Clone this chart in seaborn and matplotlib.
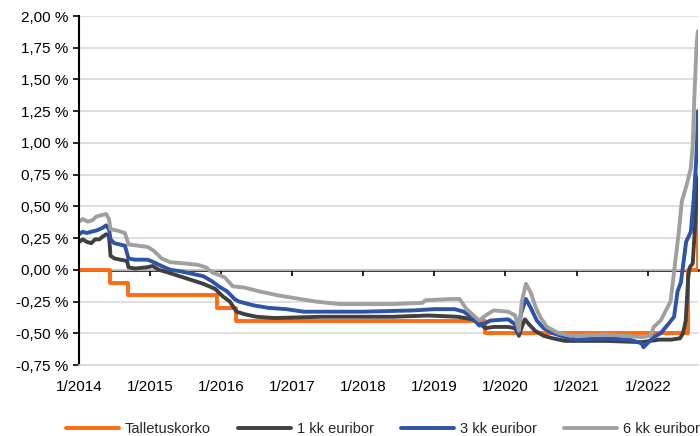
import pandas as pd
import matplotlib
matplotlib.use('Agg')
import matplotlib.pyplot as plt
import matplotlib.ticker as mticker
import seaborn as sns

# Talletuskorko (EKP:n talletuskorko), porrasmuutokset
talletus_dates = ['2014-01-01', '2014-06-11', '2014-09-10', '2015-12-09', '2016-03-16',
                  '2019-09-18', '2022-07-27', '2022-09-14', '2022-09-16']
talletus_vals = [0.00, -0.10, -0.20, -0.30, -0.40, -0.50, 0.00, 0.75, 0.75]

# 1 kk euribor
e1_dates = ['2014-01-02', '2014-01-20', '2014-02-10', '2014-03-05', '2014-03-25', '2014-04-15',
            '2014-05-01', '2014-05-20', '2014-06-04', '2014-06-12', '2014-07-01', '2014-08-01',
            '2014-09-05', '2014-09-12', '2014-10-15', '2014-12-15', '2015-01-15', '2015-02-15',
            '2015-04-01', '2015-06-01', '2015-08-01', '2015-10-01', '2015-12-01', '2016-01-10',
            '2016-02-15', '2016-03-20', '2016-05-01', '2016-07-01', '2016-10-01', '2017-06-01',
            '2018-06-01', '2018-12-01', '2019-05-01', '2019-07-15', '2019-08-20', '2019-09-20',
            '2019-11-01', '2020-01-15', '2020-02-20', '2020-03-10', '2020-03-25', '2020-04-10',
            '2020-05-01', '2020-06-01', '2020-07-15', '2020-09-01', '2020-11-01', '2021-01-01',
            '2021-06-01', '2021-12-01', '2022-01-15', '2022-03-01', '2022-05-01', '2022-06-15',
            '2022-07-01', '2022-07-15', '2022-07-28', '2022-08-05', '2022-08-20', '2022-08-30',
            '2022-09-06', '2022-09-12', '2022-09-15']
e1_vals = [0.22, 0.24, 0.22, 0.21, 0.24, 0.24,
           0.26, 0.28, 0.27, 0.11, 0.09, 0.08,
           0.07, 0.02, 0.01, 0.02, 0.03, 0.00,
           -0.02, -0.05, -0.08, -0.11, -0.15, -0.21,
           -0.25, -0.33, -0.35, -0.37, -0.38, -0.37,
           -0.37, -0.36, -0.37, -0.39, -0.42, -0.46,
           -0.45, -0.45, -0.46, -0.52, -0.45, -0.39,
           -0.43, -0.48, -0.52, -0.54, -0.56, -0.56,
           -0.56, -0.57, -0.56, -0.55, -0.55, -0.54,
           -0.50, -0.40, -0.05, 0.02, 0.05, 0.30,
           0.50, 0.60, 0.72]

# 3 kk euribor
e3_dates = ['2014-01-02', '2014-01-20', '2014-02-10', '2014-03-05', '2014-04-01', '2014-05-01',
            '2014-05-20', '2014-06-04', '2014-06-12', '2014-07-01', '2014-08-25', '2014-09-12',
            '2014-10-15', '2014-12-20', '2015-01-20', '2015-03-01', '2015-04-15', '2015-06-01',
            '2015-08-01', '2015-10-01', '2015-11-15', '2015-12-20', '2016-02-01', '2016-03-10',
            '2016-04-01', '2016-06-15', '2016-09-01', '2016-12-01', '2017-03-01', '2018-01-01',
            '2018-09-15', '2019-01-01', '2019-04-15', '2019-06-01', '2019-07-15', '2019-08-20',
            '2019-09-20', '2019-10-15', '2020-01-15', '2020-02-20', '2020-03-08', '2020-03-20',
            '2020-04-15', '2020-05-10', '2020-06-10', '2020-07-15', '2020-09-01', '2020-11-01',
            '2021-01-01', '2021-06-01', '2021-10-01', '2021-12-01', '2021-12-10', '2022-01-05',
            '2022-02-01', '2022-03-08', '2022-04-15', '2022-05-16', '2022-06-03', '2022-06-20',
            '2022-07-17', '2022-08-10', '2022-08-25', '2022-09-05', '2022-09-12', '2022-09-15']
e3_vals = [0.28, 0.30, 0.29, 0.30, 0.31, 0.33,
           0.35, 0.32, 0.24, 0.21, 0.19, 0.09,
           0.08, 0.08, 0.06, 0.03, 0.00, -0.01,
           -0.03, -0.05, -0.09, -0.13, -0.17, -0.23,
           -0.25, -0.28, -0.30, -0.31, -0.33, -0.33,
           -0.32, -0.31, -0.31, -0.33, -0.38, -0.44,
           -0.42, -0.40, -0.39, -0.43, -0.50, -0.35,
           -0.23, -0.30, -0.40, -0.46, -0.50, -0.53,
           -0.55, -0.54, -0.55, -0.58, -0.61, -0.57,
           -0.53, -0.50, -0.43, -0.37, -0.17, -0.10,
           0.22, 0.30, 0.56, 0.82, 1.04, 1.25]

# 6 kk euribor
e6_dates = ['2014-01-02', '2014-01-20', '2014-02-15', '2014-03-10', '2014-04-01', '2014-04-25',
            '2014-05-20', '2014-06-04', '2014-06-12', '2014-07-15', '2014-08-25', '2014-09-12',
            '2014-11-01', '2014-12-20', '2015-01-20', '2015-03-01', '2015-04-15', '2015-07-01',
            '2015-09-01', '2015-10-15', '2015-11-15', '2015-12-20', '2016-01-20', '2016-03-01',
            '2016-05-01', '2016-07-15', '2016-10-15', '2017-01-01', '2017-05-01', '2017-09-01',
            '2018-01-01', '2018-06-01', '2018-11-01', '2018-11-15', '2019-04-01', '2019-05-10',
            '2019-06-15', '2019-08-20', '2019-09-20', '2019-11-01', '2020-01-15', '2020-02-20',
            '2020-03-10', '2020-03-25', '2020-04-15', '2020-05-10', '2020-06-05', '2020-07-01',
            '2020-08-01', '2020-10-01', '2020-12-01', '2021-06-01', '2021-12-01', '2022-01-15',
            '2022-02-01', '2022-03-08', '2022-04-28', '2022-06-08', '2022-06-25', '2022-07-20',
            '2022-08-10', '2022-08-20', '2022-08-28', '2022-09-08', '2022-09-15']
e6_vals = [0.38, 0.40, 0.38, 0.39, 0.42, 0.43,
           0.44, 0.40, 0.32, 0.31, 0.29, 0.20,
           0.19, 0.18, 0.15, 0.09, 0.06, 0.05,
           0.04, 0.02, -0.02, -0.04, -0.06, -0.13,
           -0.14, -0.17, -0.20, -0.22, -0.25, -0.27,
           -0.27, -0.27, -0.26, -0.24, -0.23, -0.23,
           -0.31, -0.40, -0.36, -0.32, -0.33, -0.36,
           -0.48, -0.25, -0.11, -0.18, -0.30, -0.38,
           -0.45, -0.50, -0.52, -0.51, -0.53, -0.52,
           -0.45, -0.40, -0.25, 0.28, 0.54, 0.67,
           0.80, 0.98, 1.35, 1.75, 1.88]

series = ['Talletuskorko', '1 kk euribor', '3 kk euribor', '6 kk euribor']
colors = ['#FF6A13', '#404040', '#2E54A6', '#A0A0A0']
years = list(range(2014, 2023))

sns.set_style('white')
plt.rcParams['font.family'] = ['Liberation Sans', 'DejaVu Sans']
plt.rcParams['font.size'] = 11

frames = []
for name, d, v in [(series[1], e1_dates, e1_vals), (series[2], e3_dates, e3_vals),
                   (series[3], e6_dates, e6_vals)]:
    frames.append(pd.DataFrame({'pvm': pd.to_datetime(d), 'korko': v, 'sarja': name}))
eur = pd.concat(frames, ignore_index=True)
dep = pd.DataFrame({'pvm': pd.to_datetime(talletus_dates), 'korko': talletus_vals})

fig = plt.figure(figsize=(7, 4.36), dpi=100)
ax = fig.add_axes([79 / 700, 71 / 436, 619 / 700, 349 / 436])

ax.yaxis.grid(True, color='#D9D9D9', linewidth=1.2)
ax.set_axisbelow(True)

sns.lineplot(data=dep, x='pvm', y='korko', color=colors[0], linewidth=2.8,
             drawstyle='steps-post', ax=ax, label=series[0])
sns.lineplot(data=eur, x='pvm', y='korko', hue='sarja', hue_order=series[1:],
             palette=colors[1:], linewidth=2.8, ax=ax)

ax.set_xlim(pd.Timestamp('2014-01-01'), pd.Timestamp('2022-09-16'))
ax.set_ylim(-0.75, 2.0)
ax.set_yticks([i * 0.25 - 0.75 for i in range(12)])
ax.yaxis.set_major_formatter(mticker.FuncFormatter(
    lambda v, p: f'{v:.2f} %'.replace('.', ',').replace('\u2212', '-')))
ax.set_xticks(pd.to_datetime([f'{y}-01-01' for y in years]))
ax.set_xticklabels([f'1/{y}' for y in years])
ax.tick_params(axis='x', length=0, pad=11, labelsize=11, colors='black')
ax.tick_params(axis='y', length=4, width=1.2, direction='out', left=True, pad=4,
               labelsize=11, colors='black')
ax.set_xlabel('')
ax.set_ylabel('')

for s in ['top', 'right']:
    ax.spines[s].set_visible(False)
ax.spines['left'].set_color('black')
ax.spines['left'].set_linewidth(1.5)
ax.spines['bottom'].set_color('#D9D9D9')
ax.spines['bottom'].set_linewidth(1.2)

# nolla-akseli tikkeineen
sec = ax.secondary_xaxis(0.75 / 2.75)
sec.set_xticks(pd.to_datetime([f'{y}-01-01' for y in years]))
sec.tick_params(axis='x', length=4, width=1.2, labelbottom=False, colors='black')
sec.spines['bottom'].set_linewidth(1.8)
sec.spines['bottom'].set_color('black')

handles, labels = ax.get_legend_handles_labels()
ax.get_legend().remove()
order = [labels.index(s) for s in series]
fig.legend([handles[i] for i in order], series, loc='center', ncol=4,
           bbox_to_anchor=(0.547, 0.015), frameon=False, handlelength=3.6,
           handletextpad=0.4, columnspacing=1.9, fontsize=10.5)

fig.savefig('out.png', dpi=100)
